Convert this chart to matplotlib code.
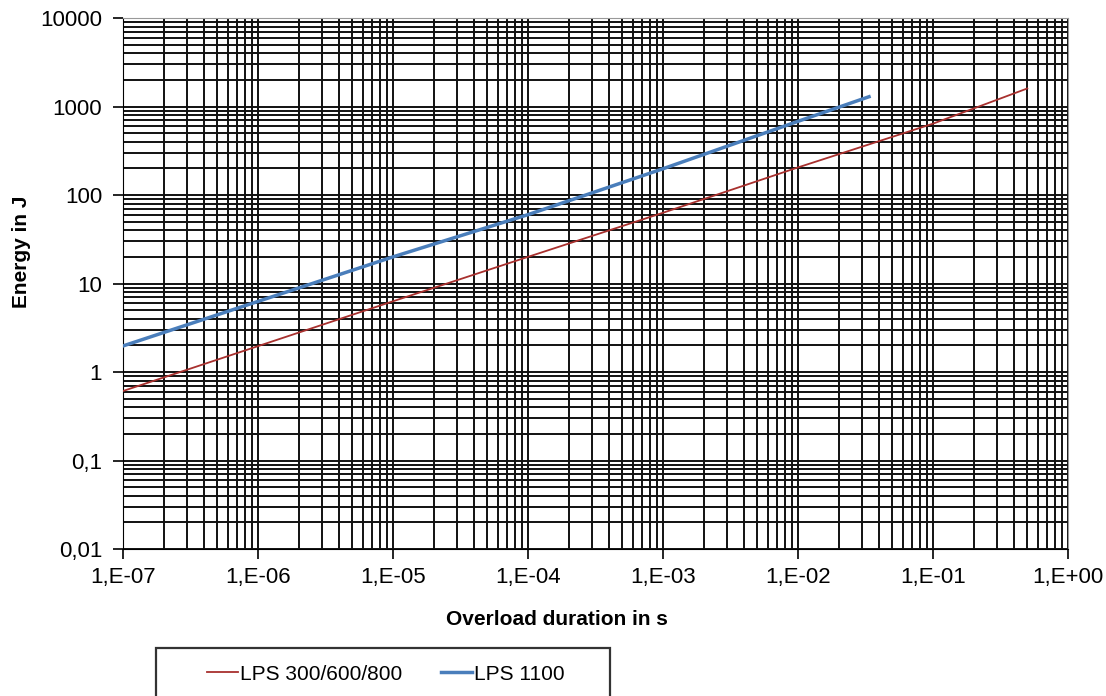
import numpy as np
import matplotlib
matplotlib.use("Agg")
import matplotlib.pyplot as plt
from matplotlib.ticker import LogLocator, FuncFormatter, NullFormatter
from matplotlib.patches import Rectangle

plt.rcParams['font.family'] = ['Liberation Sans', 'DejaVu Sans']

# values (log-log)
t_lps800 = [1e-7, 1e-5, 1e-4, 1e-3, 1e-2, 1e-1, 5e-1]
e_lps800 = [0.61, 6.3, 20.0, 63.0, 205.0, 640.0, 1600.0]
t_lps1100 = [1e-7, 1e-5, 1e-4, 1e-3, 1e-2, 3.36e-2]
e_lps1100 = [1.97, 20.0, 60.0, 198.0, 680.0, 1290.0]

fig = plt.figure(figsize=(11.06, 6.96), dpi=100)
ax = fig.add_axes([0.1112, 0.2112, 0.8544, 0.7629])

ax.plot(t_lps800, e_lps800, color='#A8302E', lw=1.3, label='LPS 300/600/800', zorder=3)
ax.plot(t_lps1100, e_lps1100, color='#4A7EBB', lw=2.5, label='LPS 1100', zorder=3)

ax.set_xscale('log')
ax.set_yscale('log')
ax.set_xlim(1e-7, 1)
ax.set_ylim(0.01, 10000)

for a in (ax.xaxis, ax.yaxis):
    a.set_major_locator(LogLocator(base=10, numticks=100))
    a.set_minor_locator(LogLocator(base=10, subs=np.arange(2, 10), numticks=100))
    a.set_minor_formatter(NullFormatter())

ax.xaxis.set_major_formatter(FuncFormatter(lambda v, p: "1,E%+03d" % int(round(np.log10(v)))))
ax.yaxis.set_major_formatter(FuncFormatter(lambda v, p: ("%g" % v).replace('.', ',')))

ax.grid(True, which='both', color='#111111', lw=1.4)
ax.set_axisbelow(True)
ax.tick_params(which='major', direction='out', length=7, width=1.2, labelsize=16, pad=8)
ax.tick_params(which='minor', length=0)
ax.tick_params(axis='x', pad=6)
for s in ['top', 'right']:
    ax.spines[s].set_color('#999999')

ax.set_xlabel('Overload duration in s', fontsize=15, fontweight='bold')
ax.xaxis.set_label_coords(0.459, -0.115)
ax.set_ylabel('Energy in J', fontsize=15, fontweight='bold')
ax.yaxis.set_label_coords(-0.097, 0.56)

fig.patches.append(Rectangle((156 / 1106, -0.1), (610 - 156) / 1106, 0.1 + 1 - 648 / 696,
                             transform=fig.transFigure, fill=False, edgecolor='#333333', lw=1.6))
fig.legend(loc='center left', bbox_to_anchor=(199 / 1106, 1 - 674 / 696), ncol=2, frameon=False,
           fontsize=15, handlelength=1.45, handletextpad=0.1, columnspacing=1.9, borderaxespad=0)

fig.savefig('out.png', dpi=100)
